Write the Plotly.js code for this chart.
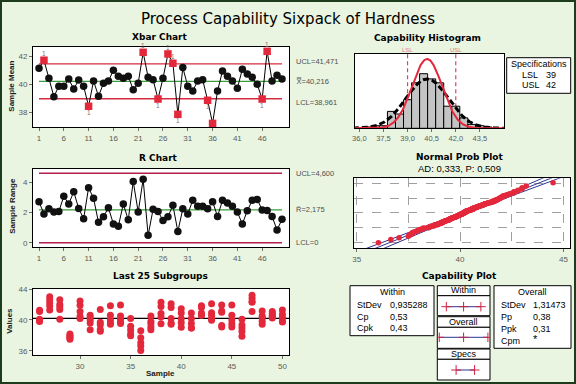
<!DOCTYPE html>
<html><head><meta charset="utf-8">
<script src="https://cdn.plot.ly/plotly-3.0.1.min.js"></script>
<style>html,body{margin:0;padding:0;background:#e9f5e1}#chart{width:576px;height:384px}</style>
</head><body><div id="chart"></div>
<script>
// ---------------- DATA ----------------
const xbarMeans = [41.15, 41.73, 40.43, 39.11, 39.86, 39.86, 40.38, 39.66, 40.31, 39.86,
  38.42, 40.24, 39.14, 40.07, 40.24, 41.00, 40.58, 40.43, 40.58, 39.61,
  40.07, 42.30, 40.50, 40.33, 38.94, 40.43, 42.18, 41.51, 37.84, 41.20,
  39.86, 39.52, 40.24, 40.33, 38.85, 37.19, 39.52, 40.96, 40.58, 40.24,
  39.71, 41.08, 40.74, 40.50, 40.00, 38.94, 42.37, 40.24, 40.65, 40.38];
const sampleRanges = [2.72, 1.90, 2.25, 2.03, 2.07, 3.07, 2.56, 3.38, 2.27, 1.59,
  3.64, 2.94, 1.35, 1.72, 2.32, 1.24, 1.09, 2.56, 1.52, 4.06,
  2.03, 4.20, 0.49, 2.21, 2.07, 1.48, 1.72, 2.48, 0.75, 2.25,
  1.90, 2.81, 2.41, 2.41, 2.25, 2.72, 1.74, 2.81, 2.63, 2.41,
  2.03, 1.24, 2.12, 2.81, 2.87, 2.17, 2.14, 1.74, 0.84, 1.55];
const xbarUCL = 41.471, xbarCL = 40.216, xbarLCL = 38.961;
const rUCL = 4.600, rCL = 2.175, rLCL = 0;
const xbarLimitLabels = ['UCL=41,471', 'X\u033F=40,216', 'LCL=38,961'];
const rLimitLabels = ['UCL=4,600', 'R\u0304=2,175', 'LCL=0'];
const sampleTicks = [1, 6, 11, 16, 21, 26, 31, 36, 41, 46];

// individual values, subgroups 1-25 (estimated from Xbar and R)
const firstSubgroups = [
  [42.6, 41.7, 41.0, 40.6, 39.88], [42.8, 42.1, 41.7, 41.2, 40.9], [41.7, 40.8, 40.3, 39.9, 39.45],
  [40.3, 39.5, 39.0, 38.5, 38.27], [41.0, 40.2, 39.7, 39.45, 38.93], [41.6, 40.1, 39.6, 39.5, 38.53],
  [41.8, 40.7, 40.2, 39.96, 39.24], [41.5, 40.2, 39.6, 38.9, 38.12], [41.5, 40.7, 40.2, 39.9, 39.23],
  [40.7, 40.1, 39.8, 39.6, 39.11], [41.2, 38.2, 37.7, 37.56, 37.56], [41.9, 40.6, 40.0, 39.74, 38.96],
  [39.9, 39.4, 39.1, 38.75, 38.55], [41.0, 40.3, 40.0, 39.77, 39.28], [41.5, 40.6, 40.1, 39.82, 39.18],
  [41.6, 41.2, 41.0, 40.84, 40.36], [41.1, 40.8, 40.6, 40.39, 40.01], [41.8, 40.8, 40.3, 39.99, 39.24],
  [41.4, 40.8, 40.5, 40.32, 39.88], [42.0, 39.8, 39.2, 39.1, 37.94], [41.2, 40.4, 39.9, 39.68, 39.17],
  [44.5, 43.0, 42.1, 41.6, 40.3], [40.75, 40.6, 40.5, 40.39, 40.26], [41.5, 40.7, 40.2, 39.96, 39.29],
  [40.1, 39.3, 38.8, 38.47, 38.03]];
// individual values, subgroups 26-50 (read from "Last 25 Subgroups")
const lastSubgroups = [
  [41.25, 41.1, 40.1, 39.9, 39.8], [43.0, 42.6, 42.2, 41.8, 41.3], [42.6, 42.0, 41.7, 41.35, 40.1],
  [38.2, 38.0, 37.8, 37.7, 37.5], [42.45, 41.9, 41.1, 40.45, 40.2], [40.6, 40.3, 40.0, 39.6, 38.75],
  [41.34, 39.7, 39.4, 38.76, 38.54], [41.85, 40.6, 40.0, 39.6, 39.45], [41.95, 40.5, 40.1, 39.7, 39.55],
  [40.2, 39.2, 38.7, 38.2, 37.95], [38.6, 37.7, 37.05, 36.65, 36.05], [40.5, 39.8, 39.5, 39.1, 38.75],
  [42.3, 41.75, 40.85, 40.4, 39.5], [42.1, 41.6, 40.2, 39.6, 39.45], [41.45, 40.9, 40.15, 39.65, 39.05],
  [40.9, 40.2, 39.55, 38.95, 38.95], [41.85, 41.6, 40.9, 40.65, 40.6], [42.1, 40.95, 40.6, 40.15, 39.95],
  [41.95, 41.15, 41.0, 39.3, 39.1], [41.95, 40.6, 40.0, 39.5, 39.1], [40.1, 39.35, 38.95, 38.5, 37.9],
  [43.2, 42.8, 42.4, 42.3, 41.1], [41.15, 40.5, 40.3, 39.85, 39.45], [41.1, 40.85, 40.6, 40.45, 40.25],
  [41.3, 40.7, 40.3, 39.85, 39.75]];
const last25Ticks = [30, 35, 40, 45, 50];

const histBinCenters = [36.5, 37.0, 37.5, 38.0, 38.5, 39.0, 39.5, 40.0, 40.5, 41.0, 41.5, 42.0, 42.5, 43.0, 43.5, 44.0];
const histCounts     = [1, 2, 2, 13, 11, 22, 35, 42, 38, 35, 17, 17, 8, 3, 2, 1];
const histBinWidth = 0.5;
const histTickVals = [36.0, 37.5, 39.0, 40.5, 42.0, 43.5];
const histTickText = ['36,0', '37,5', '39,0', '40,5', '42,0', '43,5'];
const LSL = 39, USL = 42;
const sdWithin = 0.935288, sdOverall = 1.31473;
const probTicks = [35, 40, 45];
const adText = 'AD: 0,333, P: 0,509';
const specLabels = ['LSL', 'USL'];
const specValues = ['39', '42'];
const withinStatLabels = ['StDev', 'Cp', 'Cpk'];
const withinStatValues = ['0,935288', '0,53', '0,43'];
const overallStatLabels = ['StDev', 'Pp', 'Ppk', 'Cpm'];
const overallStatValues = ['1,31473', '0,38', '0,31', '*'];

// ---------------- helpers ----------------
const W = 576, H = 384;
const PX = v => v / W, PY = v => 1 - v / H;
const dX = (a, b) => [a / W, b / W];
const dY = (t, b) => [1 - b / H, 1 - t / H];
const FS = 'Liberation Sans', FT = 'DejaVu Sans';
const RED = '#e4283c', LIMRED = '#d42a40', RLIM = '#b4204a', GREEN = '#3a9c3a', NAVY = '#2c3590';

function invNorm(p) {
  const a=[-3.969683028665376e+01,2.209460984245205e+02,-2.759285104469687e+02,1.383577518672690e+02,-3.066479806614716e+01,2.506628277459239e+00];
  const b=[-5.447609879822406e+01,1.615858368580409e+02,-1.556989798598866e+02,6.680131188771972e+01,-1.328068155288572e+01];
  const c=[-7.784894002430293e-03,-3.223964580411365e-01,-2.400758277161838e+00,-2.549732539343734e+00,4.374664141464968e+00,2.938163982698783e+00];
  const d=[7.784695709041462e-03,3.224671290700398e-01,2.445134137142996e+00,3.754408661907416e+00];
  const pl = 0.02425; let q, r;
  if (p < pl) { q = Math.sqrt(-2*Math.log(p)); return (((((c[0]*q+c[1])*q+c[2])*q+c[3])*q+c[4])*q+c[5])/((((d[0]*q+d[1])*q+d[2])*q+d[3])*q+1); }
  if (p <= 1-pl) { q = p-0.5; r = q*q; return (((((a[0]*r+a[1])*r+a[2])*r+a[3])*r+a[4])*r+a[5])*q/(((((b[0]*r+b[1])*r+b[2])*r+b[3])*r+b[4])*r+1); }
  q = Math.sqrt(-2*Math.log(1-p)); return -(((((c[0]*q+c[1])*q+c[2])*q+c[3])*q+c[4])*q+c[5])/((((d[0]*q+d[1])*q+d[2])*q+d[3])*q+1);
}
const npdf = (x, m, s) => Math.exp(-0.5*((x-m)/s)**2) / (s*Math.sqrt(2*Math.PI));

const sampleNumbers = xbarMeans.map((_, i) => i + 1);
const lastNumbers = sampleNumbers.slice(sampleNumbers.length - lastSubgroups.length);
const firstS = sampleNumbers[0], lastS = sampleNumbers[sampleNumbers.length - 1];
const xbarYRange = [36.93, 42.68];

const traces = [];
const hline = (xa, ya, y, color, w) => ({type:'scatter', mode:'lines', xaxis:xa, yaxis:ya, x:[firstS, lastS], y:[y, y], line:{color, width:w}, hoverinfo:'skip'});

// Xbar chart
traces.push(hline('x','y',xbarUCL,LIMRED,1.3), hline('x','y',xbarLCL,LIMRED,1.3), hline('x','y',xbarCL,GREEN,1.3));
const ooc = xbarMeans.map(v => v > xbarUCL || v < xbarLCL);
traces.push({type:'scatter', mode:'lines+markers', xaxis:'x', yaxis:'y', x:sampleNumbers, y:xbarMeans,
  line:{color:'#000', width:1},
  marker:{size:7.5, symbol:ooc.map(o => o ? 'square' : 'circle'), color:ooc.map(o => o ? RED : '#111'), line:{width:0}},
  hoverinfo:'skip'});

// R chart
traces.push(hline('x2','y2',rUCL,RLIM,1.3), hline('x2','y2',rLCL,RLIM,1.3), hline('x2','y2',rCL,GREEN,1.3));
traces.push({type:'scatter', mode:'lines+markers', xaxis:'x2', yaxis:'y2', x:sampleNumbers, y:sampleRanges,
  line:{color:'#000', width:1}, marker:{size:7.5, color:'#111'}, hoverinfo:'skip'});

// Last 25 subgroups
const l25x = [], l25y = [];
lastSubgroups.forEach((g, j) => g.forEach(v => { l25x.push(lastNumbers[j]); l25y.push(v); }));
traces.push({type:'scatter', mode:'markers', xaxis:'x3', yaxis:'y3', x:l25x, y:l25y,
  marker:{size:7, color:RED}, hoverinfo:'skip'});

// Capability histogram
const nAll = (firstSubgroups.length + lastSubgroups.length) * 5;
traces.push({type:'bar', xaxis:'x4', yaxis:'y4', x:histBinCenters, y:histCounts, width:histBinWidth,
  marker:{color:'#c4c4c4', line:{color:'#000', width:1}}, hoverinfo:'skip'});
const cx = [];
for (let v = 35.6; v <= 45.2; v += 0.03) cx.push(v);
traces.push({type:'scatter', mode:'lines', xaxis:'x4', yaxis:'y4', x:cx, y:cx.map(v => nAll*histBinWidth*npdf(v, xbarCL, sdOverall)),
  line:{color:'#000', width:3, dash:'6px,3px'}, hoverinfo:'skip'});
traces.push({type:'scatter', mode:'lines', xaxis:'x4', yaxis:'y4', x:cx, y:cx.map(v => nAll*histBinWidth*npdf(v, xbarCL, sdWithin)),
  line:{color:RED, width:2}, hoverinfo:'skip'});

// Normal probability plot
const allVals = firstSubgroups.flat().concat(lastSubgroups.flat()).sort((a, b) => a - b);
const nn = allVals.length;
const zScores = allVals.map((_, i) => invNorm((i + 1 - 0.3) / (nn + 0.4)));
const zl = [];
for (let z = -3.6; z <= 3.6; z += 0.05) zl.push(z);
const se = z => 1.96 * sdOverall * Math.sqrt(1/nn + z*z/(2*(nn-1)));
[-1, 0, 1].forEach(k => traces.push({type:'scatter', mode:'lines', xaxis:'x5', yaxis:'y5',
  x:zl.map(z => xbarCL + z*sdOverall + k*se(z)), y:zl, line:{color:NAVY, width:1}, hoverinfo:'skip'}));
traces.push({type:'scatter', mode:'markers', xaxis:'x5', yaxis:'y5', x:allVals, y:zScores,
  marker:{size:5.5, color:RED}, hoverinfo:'skip'});

// Capability plot glyphs
const glyph = (xa, ya, xs) => ({type:'scatter', mode:'lines+markers', xaxis:xa, yaxis:ya, x:xs, y:xs.map(() => 0),
  line:{color:NAVY, width:1}, marker:{symbol:'cross-thin', size:7, line:{color:'#d02040', width:1}}, hoverinfo:'skip'});
traces.push(glyph('x6','y6',[xbarCL - 3*sdWithin, xbarCL, xbarCL + 3*sdWithin]));
traces.push(glyph('x7','y7',[xbarCL - 3*sdOverall, xbarCL, xbarCL + 3*sdOverall]));
traces.push(glyph('x8','y8',[LSL, USL]));

// ---------------- axes ----------------
const axBase = {showline:true, mirror:true, linecolor:'#000', linewidth:1, ticks:'outside', ticklen:3,
  tickcolor:'#707070', tickfont:{family:FS, size:8, color:'#5a5a5a'}, showgrid:false, zeroline:false, fixedrange:true};
const hidden = {visible:false, fixedrange:true};

const layout = {
  width:W, height:H, margin:{l:0, r:0, t:0, b:0}, paper_bgcolor:'#e9f5e1', plot_bgcolor:'#ffffff',
  showlegend:false, bargap:0, font:{family:FS, size:8, color:'#000'},
  title:{text:'Process Capability Sixpack of Hardness', x:0.5, xanchor:'center', y:PY(18.5), yanchor:'middle',
    font:{family:FT, size:15, color:'#000'}},
  xaxis: {...axBase, domain:dX(33,289), range:[-0.21,51.41], tickmode:'array', tickvals:sampleTicks, anchor:'y'},
  yaxis: {...axBase, domain:dY(47,127), range:xbarYRange, tickmode:'array', tickvals:[38,40,42], anchor:'x'},
  xaxis2:{...axBase, domain:dX(33,289), range:[-0.21,51.41], tickmode:'array', tickvals:sampleTicks, anchor:'y2'},
  yaxis2:{...axBase, domain:dY(169,247.3), range:[-0.3,4.88], tickmode:'array', tickvals:[0,2,4], anchor:'x2'},
  xaxis3:{...axBase, domain:dX(33,289), range:[25.35,50.65], tickmode:'array', tickvals:last25Ticks, anchor:'y3'},
  yaxis3:{...axBase, domain:dY(289,355), range:[35.48,44], tickmode:'array', tickvals:[36,40,44], anchor:'x3'},
  xaxis4:{...axBase, domain:dX(354.5,504), range:[35.7,45.0], tickmode:'array', tickvals:histTickVals, ticktext:histTickText, anchor:'y4',
    tickfont:{family:FS, size:7.5, color:'#5a5a5a'}},
  yaxis4:{...axBase, domain:dY(54,128.3), range:[0,57.15], ticks:'', showticklabels:false, anchor:'x4'},
  xaxis5:{...axBase, domain:dX(354,570), range:[34.87,45.32], tickmode:'array', tickvals:probTicks, anchor:'y5',
    showgrid:true, griddash:'dash', gridcolor:'#a0a0a0', gridwidth:1,
    minor:{tickmode:'linear', tick0:35, dtick:2.5, showgrid:true, griddash:'dash', gridcolor:'#a0a0a0', gridwidth:1, ticks:''}},
  yaxis5:{...axBase, domain:dY(178.3,248.3), range:[-3.28,3.17], ticks:'', showticklabels:false, anchor:'x5',
    tickmode:'linear', tick0:0, dtick:1.35, showgrid:true, griddash:'dash', gridcolor:'#a0a0a0', gridwidth:1},
  xaxis6:{...hidden, domain:dX(437.3,490), range:[35.95,44.5], anchor:'y6'},
  yaxis6:{...hidden, domain:dY(301.7,311.7), range:[-1,1], anchor:'x6'},
  xaxis7:{...hidden, domain:dX(437.3,490), range:[35.95,44.5], anchor:'y7'},
  yaxis7:{...hidden, domain:dY(332.3,342.3), range:[-1,1], anchor:'x7'},
  xaxis8:{...hidden, domain:dX(437.3,490), range:[35.95,44.5], anchor:'y8'},
  yaxis8:{...hidden, domain:dY(365,375), range:[-1,1], anchor:'x8'},
  shapes:[], annotations:[]
};

// ---------------- shapes ----------------
const S = layout.shapes;
const rect = (x0, y0, x1, y1) => ({type:'rect', xref:'paper', yref:'paper', x0:PX(x0), x1:PX(x1), y0:PY(y1), y1:PY(y0),
  line:{color:'#000', width:1}, fillcolor:'#ffffff', layer:'below'});
S.push({type:'line', xref:'x3 domain', x0:0, x1:1, yref:'y3', y0:xbarCL, y1:xbarCL, line:{color:'#000', width:1.2}, layer:'below'});
[LSL, USL].forEach(v => S.push({type:'line', xref:'x4', x0:v, x1:v, yref:'y4 domain', y0:0, y1:1,
  line:{color:'#d8485a', width:1.2, dash:'4px,3px'}, layer:'below'}));
S.push(rect(506.7, 57.7, 570.7, 93.3));
S.push(rect(350, 285.7, 434, 335.7));
S.push(rect(494, 285.7, 571, 348.3));
S.push(rect(437.3, 285.7, 490, 295.7), rect(437.3, 295.7, 490, 315.7));
S.push(rect(437.3, 316.7, 490, 327.3), rect(437.3, 327.3, 490, 348.3));
S.push(rect(437.3, 349, 490, 359.3), rect(437.3, 359.3, 490, 380));
S.push({type:'rect', xref:'paper', yref:'paper', x0:PX(1), x1:PX(575), y0:PY(383), y1:PY(1), line:{color:'#1d3b1d', width:2}, fillcolor:'rgba(0,0,0,0)'});

// ---------------- annotations ----------------
const A = layout.annotations;
const txt = (text, x, y, o = {}) => A.push(Object.assign({xref:'paper', yref:'paper', x:PX(x), y:PY(y), text, showarrow:false,
  xanchor:'center', yanchor:'middle', font:{family:FS, size:9, color:'#000'}}, o));
const bold = {font:{family:FT, size:9, color:'#000'}};
txt('<b>Xbar Chart</b>', 160, 36.5, bold);
txt('<b>Capability Histogram</b>', 427, 38.5, bold);
txt('<b>R Chart</b>', 158, 157.5, bold);
txt('<b>Normal Prob Plot</b>', 459.5, 157, bold);
txt(adText, 459.5, 168.5, {font:{family:FS, size:9.5, color:'#000'}});
txt('<b>Last 25 Subgroups</b>', 160, 276, bold);
txt('<b>Capability Plot</b>', 459, 276, bold);

const axT = {family:FS, size:8, color:'#202020'};
txt('<b>Sample Mean</b>', 12, 86.7, {textangle:-90, font:axT});
txt('<b>Sample Range</b>', 13, 205.8, {textangle:-90, font:axT});
txt('<b>Values</b>', 10, 320.8, {textangle:-90, font:axT});
txt('<b>Sample</b>', 160, 373.3, {font:axT});

// limit labels
const limFont = {family:FS, size:7.5, color:'#505050'};
[[xbarUCL, 2], [xbarCL, 0], [xbarLCL, -4]].forEach(([v, sh], i) =>
  A.push({xref:'paper', yref:'y', x:PX(294), y:v, yshift:sh, text:xbarLimitLabels[i], showarrow:false, xanchor:'left', yanchor:'middle', font:limFont}));
[rUCL, rCL, rLCL].forEach((v, i) =>
  A.push({xref:'paper', yref:'y2', x:PX(294), y:v, text:rLimitLabels[i], showarrow:false, xanchor:'left', yanchor:'middle', font:limFont}));

// test-1 flags on the Xbar chart
xbarMeans.forEach((v, i) => {
  if (!ooc[i]) return;
  const up = v > xbarUCL;
  if (!up && v - 0.6 < xbarYRange[0]) return;
  A.push({xref:'x', yref:'y', x:sampleNumbers[i], y:v, yshift: up ? 6.5 : -6.5, text:'1', showarrow:false, borderpad:0,
    xanchor:'center', yanchor:'middle', font:{family:FS, size:6.5, color:'#8a6a6a'}});
});

// LSL / USL labels on histogram
[[LSL, 'LSL'], [USL, 'USL']].forEach(([v, t]) =>
  A.push({xref:'x4', yref:'paper', x:v, y:PY(50.5), text:t, showarrow:false, xanchor:'center', yanchor:'middle', borderpad:0,
    font:{family:FS, size:6, color:'#e07a84'}}));

// specifications box
txt('Specifications', 538.7, 63.5);
specLabels.forEach((l, i) => { txt(l, 520, 74.7 + i*10.5, {xanchor:'left'}); txt(specValues[i], 544, 74.7 + i*10.5, {xanchor:'left'}); });

// capability plot boxes
txt('Within', 392, 291.7);
withinStatLabels.forEach((l, i) => { txt(l, 355, 305 + i*11.7, {xanchor:'left'}); txt(withinStatValues[i], 388.3, 305 + i*11.7, {xanchor:'left'}); });
txt('Within', 463.7, 290.3);
txt('Overall', 463.7, 322.2);
txt('Specs', 463.7, 354.3);
txt('Overall', 532.7, 291.7);
overallStatLabels.forEach((l, i) => { txt(l, 499.3, 305 + i*12, {xanchor:'left'});
  txt(overallStatValues[i], 531, 305 + i*12 - (overallStatValues[i] === '*' ? 2 : 0), {xanchor:'left', font:{family:FS, size:overallStatValues[i] === '*' ? 11 : 9, color:'#000'}}); });

Plotly.newPlot('chart', traces, layout, {staticPlot:true, displayModeBar:false});
</script>
</body></html>
